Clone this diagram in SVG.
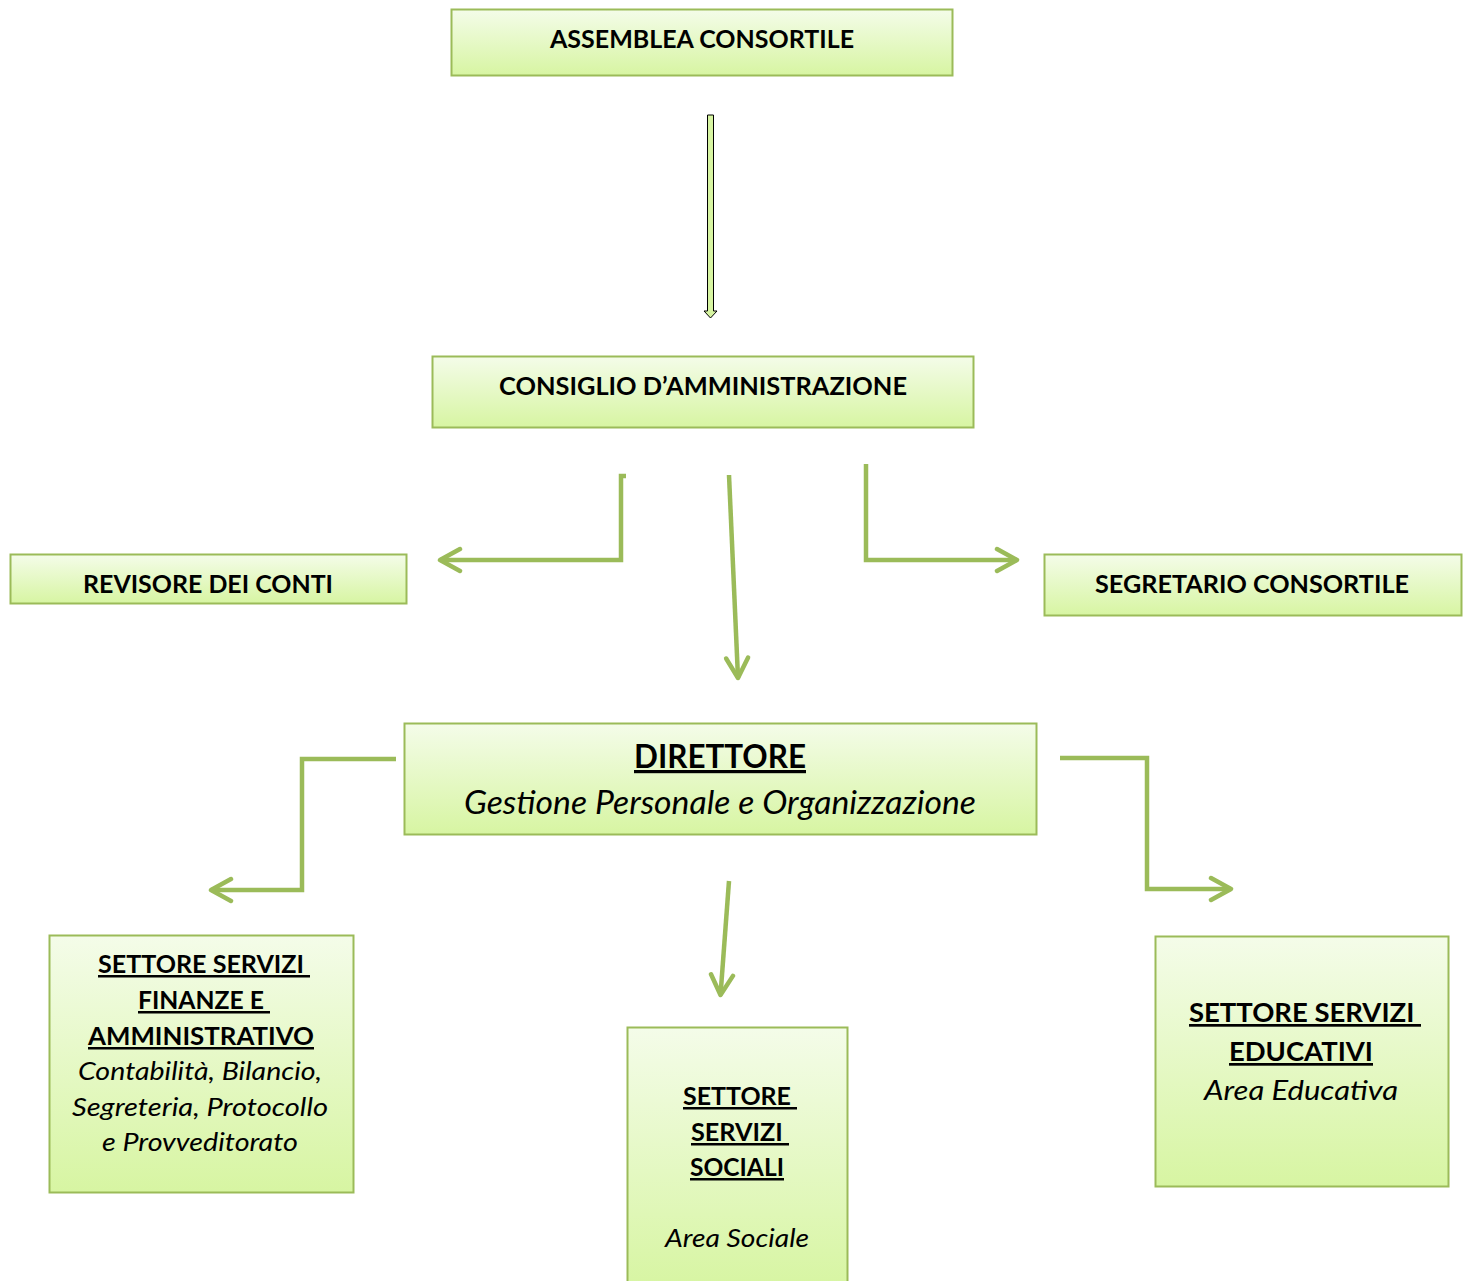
<svg xmlns="http://www.w3.org/2000/svg" width="1469" height="1281" viewBox="0 0 1469 1281">
<defs>
<linearGradient id="g" x1="0" y1="0" x2="0" y2="1">
<stop offset="0" stop-color="#f4fce9"/>
<stop offset="1" stop-color="#d7f5a2"/>
</linearGradient>
<marker id="ah" viewBox="0 0 26 28" refX="23" refY="14" markerWidth="26" markerHeight="28" markerUnits="userSpaceOnUse" orient="auto">
<path d="M3,3 L23,14 L3,25" fill="none" stroke="#9bbb59" stroke-width="4.5" stroke-linecap="round" stroke-linejoin="round"/>
</marker>
<style>
.box{fill:url(#g);stroke:#9bbb59;stroke-width:2}
.t{font-family:Lato,"Open Sans","Liberation Sans",sans-serif;fill:#000;text-anchor:middle}
.b{font-weight:bold}
.i{font-style:italic}
.u{text-decoration:underline}
.c{fill:none;stroke:#9bbb59;stroke-width:4.5}
</style>
</defs>
<rect width="1469" height="1281" fill="#fff"/>
<g id="connectors">
<polygon points="707.5,115 713.5,115 713.5,311 717,311 710.5,318 704,311 707.5,311" fill="#d7f5a2" stroke="#000" stroke-width="1"/>
<polyline class="c" points="626,476 621,476 621,560 440,560" marker-end="url(#ah)"/>
<line class="c" x1="729" y1="475" x2="738" y2="678" marker-end="url(#ah)"/>
<polyline class="c" points="866,464 866,560 1017,560" marker-end="url(#ah)"/>
<polyline class="c" points="396,759 302,759 302,890 211,890" marker-end="url(#ah)"/>
<polyline class="c" points="1060,758 1147,758 1147,889 1231,889" marker-end="url(#ah)"/>
<line class="c" x1="729" y1="881" x2="720.5" y2="995" marker-end="url(#ah)"/>
</g>
<g id="assemblea">
<rect class="box" x="451.5" y="9.5" width="501" height="66"/>
<text class="t b" x="702" y="48" font-size="24" textLength="304" lengthAdjust="spacingAndGlyphs">ASSEMBLEA CONSORTILE</text>
</g>
<g id="consiglio">
<rect class="box" x="432.5" y="356.5" width="541" height="71"/>
<text class="t b" x="703" y="395" font-size="24" textLength="408" lengthAdjust="spacingAndGlyphs">CONSIGLIO D’AMMINISTRAZIONE</text>
</g>
<g id="revisore">
<rect class="box" x="10.5" y="554.5" width="396" height="49"/>
<text class="t b" x="208" y="593" font-size="24" textLength="250" lengthAdjust="spacingAndGlyphs">REVISORE DEI CONTI</text>
</g>
<g id="segretario">
<rect class="box" x="1044.5" y="554.5" width="417" height="61"/>
<text class="t b" x="1252" y="593" font-size="24" textLength="314" lengthAdjust="spacingAndGlyphs">SEGRETARIO CONSORTILE</text>
</g>
<g id="direttore">
<rect class="box" x="404.5" y="723.5" width="632" height="111"/>
<text class="t b u" x="720" y="768" font-size="32" textLength="172" lengthAdjust="spacingAndGlyphs">DIRETTORE</text>
<text class="t i" x="720" y="814" font-size="32" textLength="512" lengthAdjust="spacingAndGlyphs">Gestione Personale e Organizzazione</text>
</g>
<g id="finanze">
<rect class="box" x="49.5" y="935.5" width="304" height="257"/>
<text class="t b u" x="204" y="973" font-size="25" xml:space="preserve" textLength="212" lengthAdjust="spacingAndGlyphs">SETTORE SERVIZI </text>
<text class="t b u" x="204" y="1009" font-size="25" xml:space="preserve" textLength="132" lengthAdjust="spacingAndGlyphs">FINANZE E </text>
<text class="t b u" x="201" y="1045" font-size="25" textLength="226" lengthAdjust="spacingAndGlyphs">AMMINISTRATIVO</text>
<text class="t i" x="200" y="1080" font-size="25" textLength="244" lengthAdjust="spacingAndGlyphs">Contabilità, Bilancio,</text>
<text class="t i" x="200" y="1116" font-size="25" textLength="256" lengthAdjust="spacingAndGlyphs">Segreteria, Protocollo</text>
<text class="t i" x="200" y="1151" font-size="25" textLength="196" lengthAdjust="spacingAndGlyphs">e Provveditorato</text>
</g>
<g id="sociali">
<rect class="box" x="627.5" y="1027.5" width="220" height="260"/>
<text class="t b u" x="740" y="1105" font-size="25" xml:space="preserve" textLength="114" lengthAdjust="spacingAndGlyphs">SETTORE </text>
<text class="t b u" x="740" y="1141" font-size="25" xml:space="preserve" textLength="98" lengthAdjust="spacingAndGlyphs">SERVIZI </text>
<text class="t b u" x="737" y="1176" font-size="25" textLength="94" lengthAdjust="spacingAndGlyphs">SOCIALI</text>
<text class="t i" x="737" y="1247" font-size="25" textLength="144" lengthAdjust="spacingAndGlyphs">Area Sociale</text>
</g>
<g id="educativi">
<rect class="box" x="1155.5" y="936.5" width="293" height="250"/>
<text class="t b u" x="1305" y="1022" font-size="27" xml:space="preserve" textLength="232" lengthAdjust="spacingAndGlyphs">SETTORE SERVIZI </text>
<text class="t b u" x="1301" y="1061" font-size="27" textLength="144" lengthAdjust="spacingAndGlyphs">EDUCATIVI</text>
<text class="t i" x="1301" y="1100" font-size="27" textLength="194" lengthAdjust="spacingAndGlyphs">Area Educativa</text>
</g>
</svg>
